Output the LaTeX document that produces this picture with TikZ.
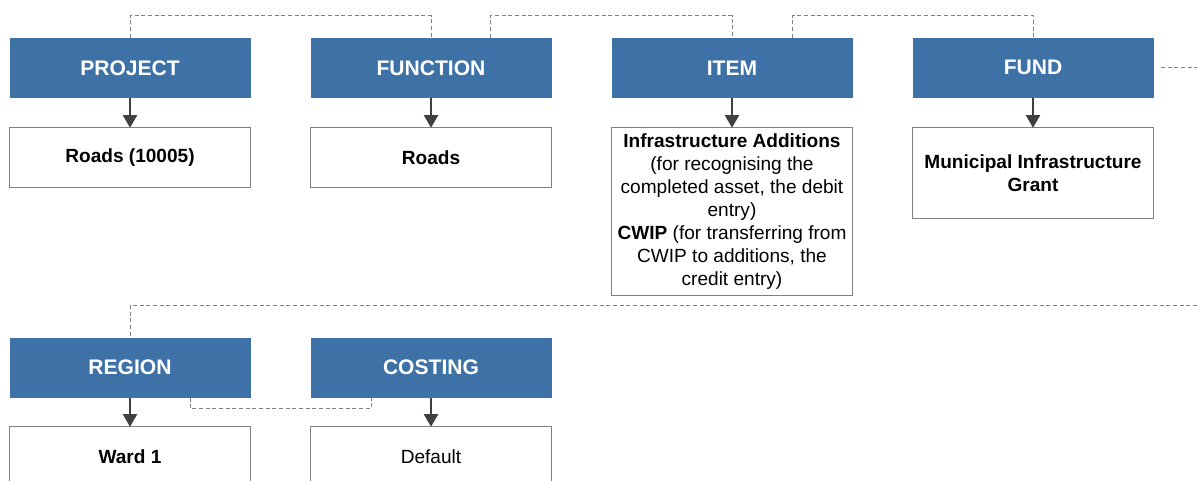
\documentclass[tikz,border=0pt]{standalone}
\usepackage{fontspec}
\setmainfont{Liberation Sans}
\usepackage{tikz}
\usetikzlibrary{positioning, arrows.meta}
\usepackage{xcolor}
\definecolor{hdrblue}{RGB}{62,114,166}
\definecolor{cellgray}{RGB}{128,128,128}
\definecolor{feedgray}{RGB}{64,64,64}
\tikzset{
    hdr/.style={fill=hdrblue, text=white, font=\fontsize{15.8}{19}\selectfont\bfseries,
        minimum width=180.75pt, minimum height=45pt, inner sep=0pt, outer sep=0pt},
    cell/.style={draw=cellgray, line width=0.9pt, fill=white, align=center,
        font=\fontsize{14.3}{17.25}\selectfont, minimum width=180.75pt,
        minimum height=44.6pt, inner sep=2pt, outer sep=0pt},
    feed/.style={-{Triangle[width=10.5pt,length=9.5pt]}, feedgray, line width=1.6pt},
    link/.style={cellgray, line width=0.75pt, dash pattern=on 3pt off 2pt}
}

\begin{document}
\begin{tikzpicture}[x=0.75pt, y=-0.75pt]
    \useasboundingbox (0,0) rectangle (1197,481);
    % Segmentos
    \node[hdr] (project) at (130,67.8) {PROJECT};
    \node[hdr, right=45pt of project] (function) {FUNCTION};
    \node[hdr, right=45pt of function] (item) {ITEM};
    \node[hdr, right=45pt of item] (fund) {FUND};
    \node[hdr] (region) at (130,367.5) {REGION};
    \node[hdr, right=45pt of region] (costing) {COSTING};
    % Valores
    \node[cell, below=22.5pt of project] (roadsproj) {\textbf{Roads (10005)}};
    \node[cell, below=22.5pt of function] (roadsfunc) {\textbf{Roads}};
    \node[cell, below=22.5pt of item, minimum height=126pt] (infra)
        {\textbf{Infrastructure Additions}\\(for recognising the\\completed asset, the debit\\entry)\\
         \textbf{CWIP} (for transferring from\\CWIP to additions, the\\credit entry)};
    \node[cell, below=22.5pt of fund, minimum height=67.9pt] (grant)
        {\textbf{Municipal Infrastructure}\\\textbf{Grant}};
    \node[cell, below=22pt of region, minimum height=45pt] (ward) {\textbf{Ward 1}};
    \node[cell, below=22pt of costing, minimum height=45pt] (default) {Default};
    % Setas
    \draw[feed] (project) -- (roadsproj);
    \draw[feed] (function) -- (roadsfunc);
    \draw[feed] (item) -- (infra);
    \draw[feed] (fund) -- (grant);
    \draw[feed] (region) -- (ward);
    \draw[feed] (costing) -- (default);
    % Ligações
    \coordinate (fundout) at (1197,67.8);
    \coordinate (regionin) at (1197,305.5);
    \draw[link] (project.north) -- ++(0,-22) -| (function.north);
    \draw[link] ([xshift=44.5pt]function.north) -- ++(0,-22) -| (item.north);
    \draw[link] ([xshift=45.5pt]item.north) -- ++(0,-22) -| (fund.north);
    \draw[link, shorten <=5.5pt] (fund) -- (fundout);
    \draw[link] (regionin) -| (region.north);
    \draw[link] ([xshift=45pt]region.south) -- ++(0,11) -| ([xshift=-45pt]costing.south);
\end{tikzpicture}
\end{document}
